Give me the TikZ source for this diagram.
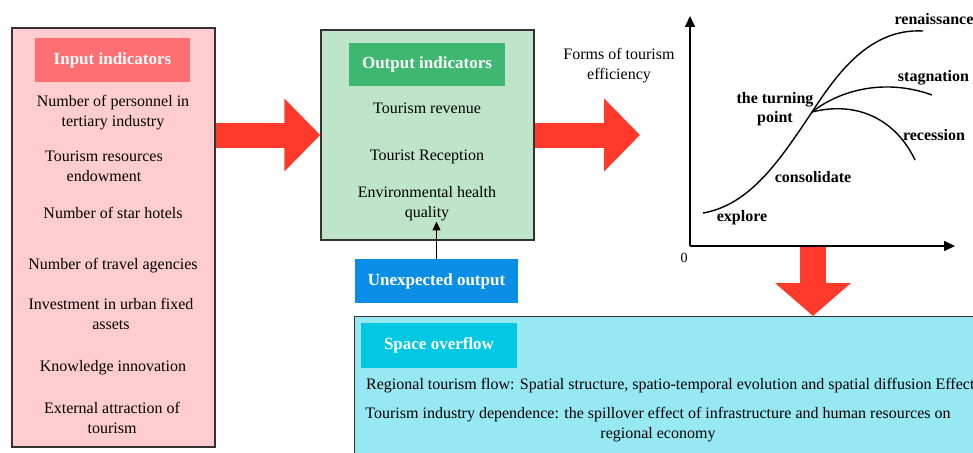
\documentclass[tikz,border=0pt]{standalone}
\usepackage{fontspec}
\setmainfont{Liberation Serif}
\usetikzlibrary{arrows.meta,positioning}

\definecolor{inpink}{RGB}{255,205,208}
\definecolor{inhead}{RGB}{255,110,112}
\definecolor{outgreen}{RGB}{190,228,202}
\definecolor{outhead}{RGB}{62,184,112}
\definecolor{unexblue}{RGB}{10,142,230}
\definecolor{spillcyan}{RGB}{150,232,242}
\definecolor{spillhead}{RGB}{0,200,226}
\definecolor{arrowred}{RGB}{255,58,42}

\begin{document}
\begin{tikzpicture}[
		x=1pt, y=-1pt,
		panel/.style={draw=black!80, line width=1.4pt, inner sep=0pt},
		head/.style={text=white, font=\bfseries\fontsize{17}{19}\selectfont, inner sep=0pt},
		item/.style={font=\fontsize{16}{20}\selectfont, align=center, inner sep=0pt},
		tag/.style={font=\bfseries\fontsize{16}{19}\selectfont, align=center, inner sep=0pt},
		bigarrow/.style={draw=arrowred, line width=25pt, -{Triangle[length=36pt, width=71pt]}},
		axis/.style={line width=1.6pt, -{Triangle[length=11pt, width=10pt]}},
	]
		\useasboundingbox (0,0) rectangle (973,452);
		\clip (0,0) rectangle (973,452);

		% input side
		\node[panel, fill=inpink, minimum width=203pt, minimum height=419pt] (inbox) at (113.5,237.5) {};
		\node[head, fill=inhead, minimum width=155pt, minimum height=44pt] (inhd) at (112.5,60) {Input indicators};
		\node[item] (in1) at (113,113) {Number of personnel in\\tertiary industry};
		\node[item] (in2) at (104,166) {Tourism resources\\endowment};
		\node[item] (in3) at (113,213) {Number of star hotels};
		\node[item] (in4) at (113,266) {Number of travel agencies};
		\node[item] (in5) at (111,314) {Investment in urban fixed\\assets};
		\node[item] (in6) at (113,368) {Knowledge innovation};
		\node[item] (in7) at (112,418) {External attraction of\\tourism};

		% output side
		\node[panel, fill=outgreen, minimum width=213pt, minimum height=210pt] (outbox) at (427.5,135) {};
		\node[head, fill=outhead, minimum width=156pt, minimum height=43pt] (outhd) at (427,64.5) {Output indicators};
		\node[item] (rev) at (427,108) {Tourism revenue};
		\node[item] (rec) at (427,157) {Tourist Reception};
		\node[item] (env) at (427,204) {Environmental health\\quality};
		\node[head, fill=unexblue, minimum width=163pt, minimum height=44pt] (unexp) at (436.5,281) {Unexpected output};
		\draw[line width=1.3pt, -{Triangle[length=9pt, width=8pt]}] (unexp.north) -- (unexp.north |- env.south);

		% life cycle curve
		\coordinate (O) at (690,246);
		\coordinate (ytip) at (690,16);
		\coordinate (xtip) at (955,246);
		\draw[axis] (O) -- (ytip);
		\draw[axis] (O) -- (xtip);
		\node[item, font=\fontsize{14}{16}\selectfont] (zero) at (684,258) {0};
		\node[item] (forms) at (619,66) {Forms of tourism\\efficiency};
		\coordinate (tp) at (812,112);
		\draw[line width=1.4pt] (703,213) .. controls (750,205) and (780,160) .. (tp)
			.. controls (835,77) and (868,28) .. (923,31);
		\draw[line width=1.4pt] (tp) .. controls (840,90) and (885,78) .. (932,95);
		\draw[line width=1.4pt] (tp) .. controls (860,100) and (897,122) .. (915,160);
		\node[tag] (ren) at (934,19) {renaissance};
		\node[tag] (stag) at (933.5,78) {stagnation};
		\node[tag] (turn) at (775,109) {the turning\\point};
		\node[tag] (recs) at (934,135) {recession};
		\node[tag] (cons) at (813,177) {consolidate};
		\node[tag] (expl) at (742,218) {explore};

		% space overflow
		\node[panel, fill=spillcyan, anchor=north west, minimum width=640pt, minimum height=150pt] (spill) at (354,316) {};
		\node[head, fill=spillhead, minimum width=156pt, minimum height=45pt] (spillhd) at (439,345.5) {Space overflow};
		\node[item, anchor=west] (flow) at (366,386) {Regional tourism flow: Spatial structure, spatio-temporal evolution and spatial diffusion Effect};
		\node[item] (dep) at (658,425) {Tourism industry dependence: the spillover effect of infrastructure and human resources on\\regional economy};

		% big red arrows
		\coordinate (gin) at (640,135);
		\coordinate (gdown) at (813,247);
		\draw[bigarrow] (inbox.east |- outbox.west) -- (outbox.west);
		\draw[bigarrow] (outbox.east) -- (gin);
		\draw[bigarrow, line width=26pt, -{Triangle[length=33pt, width=74pt]}] (gdown) -- (spill.north -| gdown);
	\end{tikzpicture}
\end{document}
